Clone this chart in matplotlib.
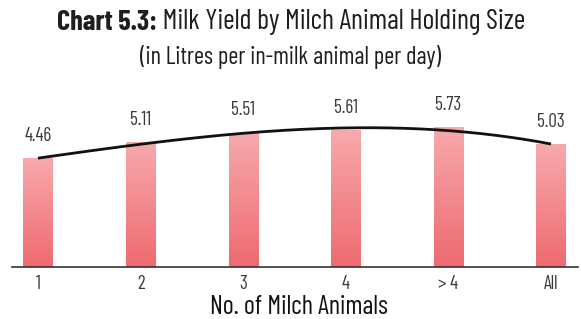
import numpy as np
import matplotlib
matplotlib.use('Agg')
import matplotlib.pyplot as plt
from matplotlib.colors import LinearSegmentedColormap
from matplotlib import font_manager

# 数据
categories = ['1', '2', '3', '4', '> 4', 'All']
values = [4.46, 5.11, 5.51, 5.61, 5.73, 5.03]

names = set(f.name for f in font_manager.fontManager.ttflist)
prefer = ['Barlow Condensed', 'Sofia Sans Condensed', 'Roboto Condensed',
          'Archivo Narrow', 'Liberation Sans Narrow', 'Liberation Sans']
narrow = [n for n in prefer if n in names][0]
plt.rcParams['font.family'] = [narrow, 'DejaVu Sans']

fig = plt.figure(figsize=(5.81, 3.19), dpi=100)
ax = fig.add_axes([12 / 581, 52 / 319, 566 / 581, 170 / 319])

x = np.arange(len(values))
w = 0.285
cmap = LinearSegmentedColormap.from_list('pk', ['#ee6a70', '#f7a9ac'])
grad = np.linspace(0, 1, 256).reshape(-1, 1)
labels = []
for xi, v in zip(x, values):
    ax.imshow(grad, extent=[xi - w / 2, xi + w / 2, 0, v], origin='lower',
              cmap=cmap, aspect='auto', zorder=2)
    labels.append(ax.text(xi, v + 0.95, '{:.2f}'.format(v), ha='center', va='center',
                          fontsize=12, color='#3a3a3a'))

# 趋势线 (三次多项式拟合)
coef = np.polyfit(x, values, 3)
xs = np.linspace(x[0], x[-1], 200)
ax.plot(xs, np.polyval(coef, xs), color='#111111', lw=2, zorder=3, solid_capstyle='butt')

ax.set_xlim(-0.253, 5.263)
ax.set_ylim(0, 7)
ax.set_xticks(x)
ticks = ax.set_xticklabels(categories, fontsize=12, color='#3a3a3a')
ax.tick_params(axis='x', length=0, pad=6)
ax.set_yticks([])
for s in ['top', 'right', 'left']:
    ax.spines[s].set_visible(False)
ax.spines['bottom'].set_color('#333333')
ax.spines['bottom'].set_linewidth(1.2)

# 标题
fig.canvas.draw()
r = fig.canvas.get_renderer()
t1 = fig.text(0, 1 - 22 / 319, 'Chart 5.3:', fontsize=16, fontweight='bold', va='center', color='#1e1e1e')
t2 = fig.text(0, 1 - 22 / 319, ' Milk Yield by Milch Animal Holding Size', fontsize=16, va='center', color='#1e1e1e')
t3 = fig.text(0.5, 1 - 57 / 319, '(in Litres per in-milk animal per day)', fontsize=14,
              ha='center', va='center', color='#1e1e1e')
xl = fig.text(299 / 581, 1 - 307 / 319, 'No. of Milch Animals', fontsize=15,
              ha='center', va='center', color='#111111')

# 按参考宽度调整字号
def fit(t, target, size):
    t.set_fontsize(size * target / t.get_window_extent(r).width)

tot = t1.get_window_extent(r).width + t2.get_window_extent(r).width
t1.set_fontsize(16 * 471 / tot)
t2.set_fontsize(16 * 471 / tot)
fit(t3, 300, 14)
fit(xl, 178, 15)
k = 27 / labels[0].get_window_extent(r).width
for t in labels + list(ticks):
    t.set_fontsize(12 * k)
w1 = t1.get_window_extent(r).width
t1.set_x(57 / 581)
t2.set_x((57 + w1) / 581)

fig.savefig('out.png', dpi=100)
